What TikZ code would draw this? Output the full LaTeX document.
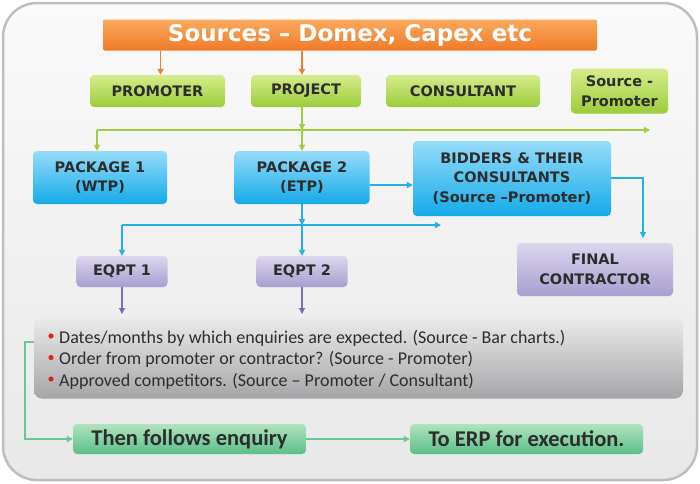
\documentclass[tikz,border=0pt]{standalone}
\usepackage{fontspec}
\setmainfont{Carlito}
\newfontfamily\tah{DejaVu Sans}
\usetikzlibrary{arrows.meta}
\definecolor{orA}{RGB}{250,170,95}
\definecolor{orB}{RGB}{240,122,38}
\definecolor{grA}{RGB}{214,236,140}
\definecolor{grB}{RGB}{156,204,58}
\definecolor{blA}{RGB}{150,220,250}
\definecolor{blB}{RGB}{20,170,232}
\definecolor{puA}{RGB}{220,214,238}
\definecolor{puB}{RGB}{168,158,208}
\definecolor{gnA}{RGB}{176,228,190}
\definecolor{gnB}{RGB}{92,190,136}
\definecolor{orL}{RGB}{240,125,45}
\definecolor{grL}{RGB}{160,205,60}
\definecolor{blL}{RGB}{35,175,232}
\definecolor{puL}{RGB}{120,110,180}
\definecolor{gnL}{RGB}{105,200,145}
\definecolor{txt}{RGB}{45,45,45}
\definecolor{dot}{RGB}{232,30,30}
\begin{document}
\begin{tikzpicture}[x=1pt,y=-1pt,
  box/.style={rounded corners=4pt,inner sep=0pt,align=center,text=txt,font=\tah\bfseries\fontsize{14.5}{19.5}\selectfont},
  grbox/.style={box,top color=grA,bottom color=grB},
  blbox/.style={box,top color=blA,bottom color=blB},
  pubox/.style={box,top color=puA,bottom color=puB},
  gnbox/.style={box,top color=gnA,bottom color=gnB,font=\bfseries\fontsize{22.5}{24}\selectfont},
  tip/.style={-{Triangle[length=6pt,width=6pt]}},
  orarr/.style={tip,draw=orL,line width=1.1pt},
  grarr/.style={tip,draw=grL,line width=1.1pt},
  blarr/.style={tip,draw=blL,line width=1.1pt},
  puarr/.style={tip,draw=puL,line width=1.1pt},
  gnarr/.style={tip,draw=gnL,line width=1.1pt},
  bul/.style={anchor=west,inner sep=0pt,text=txt,font=\fontsize{18}{21}\selectfont}
]
\useasboundingbox (0,0) rectangle (700,483);
\draw[rounded corners=34pt,line width=2.5pt,draw={rgb,255:red,190;green,190;blue,190},top color={rgb,255:red,250;green,250;blue,250},bottom color={rgb,255:red,232;green,232;blue,232}] (3,3) rectangle (697,480);

% title
\node[box,top color=orA,bottom color=orB,rounded corners=2pt,minimum width=494pt,minimum height=31pt,text=white,font=\tah\bfseries\fontsize{23}{26}\selectfont] (title) at (350,35) {Sources – Domex, Capex etc};

% green row
\node[grbox,minimum width=135pt,minimum height=32pt] (prom) at (157.5,91) {PROMOTER};
\node[grbox,minimum width=110pt,minimum height=32pt] (proj) at (306,91) {PROJECT};
\node[grbox,minimum width=154pt,minimum height=32pt] (cons) at (463,91) {CONSULTANT};
\node[grbox,minimum width=97pt,minimum height=45pt] (srcp) at (619.5,91) {Source -\\Promoter};

% blue row
\node[blbox,minimum width=134pt,minimum height=53pt] (pk1) at (100,177.5) {PACKAGE 1\\(WTP)};
\node[blbox,minimum width=135pt,minimum height=53pt] (pk2) at (302,177.5) {PACKAGE 2\\(ETP)};
\node[blbox,minimum width=198pt,minimum height=75pt] (bid) at (512,178.5) {BIDDERS \& THEIR\\CONSULTANTS\\(Source –Promoter)};

% purple
\node[pubox,minimum width=91pt,minimum height=31pt] (eq1) at (122,271.5) {EQPT 1};
\node[pubox,minimum width=91pt,minimum height=31pt] (eq2) at (302,271.5) {EQPT 2};
\node[pubox,minimum width=156pt,minimum height=53pt] (fin) at (595,269.5) {FINAL\\CONTRACTOR};

% gray info box
\node[rounded corners=8pt,minimum width=649pt,minimum height=82pt,inner sep=0pt,top color={rgb,255:red,236;green,236;blue,236},bottom color={rgb,255:red,165;green,165;blue,168}] (info) at (358.5,357.5) {};
\foreach \i/\yy/\t in {1/338/{Dates/months by which enquiries are expected. (Source - Bar charts.)},
                      2/359.5/{Order from promoter or contractor? (Source - Promoter)},
                      3/381/{Approved competitors. (Source – Promoter / Consultant)}}{
  \fill[dot] (51,\yy-2) circle (2.6pt);
  \node[bul] (b\i) at (59,\yy) {\t};
}

% bottom green
\node[gnbox,minimum width=233pt,minimum height=30pt] (then) at (189.5,439) {Then follows enquiry};
\node[gnbox,minimum width=233pt,minimum height=30pt] (erp) at (526.5,439) {To ERP for execution.};

% coordinates
\coordinate (gj) at (302,130);
\coordinate (gl) at (97,130);
\coordinate (gr) at (650,130);
\coordinate (bj) at (302,225);
\coordinate (bl) at (122,225);
\coordinate (br) at (441,225);
\coordinate (bc) at (643,178);
\coordinate (gk) at (25,342);
\coordinate (fc) at (643,238);

% connectors
\draw[orarr] (title.south -| prom.north) ++(3,0) coordinate (t1) -- (t1 |- prom.north);
\draw[orarr] (title.south -| gj) -- (gj |- proj.north);
\draw[grarr] (proj.south -| gj) -- (gj);
\draw[grarr] (gl) -- (gr);
\draw[grarr] (gl) -- (gl |- pk1.north);
\draw[grarr] (gj) -- (pk2.north);
\draw[blarr] (pk2.east |- 0,185) -- (bid.west |- 0,185);
\draw[blarr] (bid.east |- bc) -- (bc) -- (fc);
\draw[blarr] (pk2.south) -- (bj);
\draw[blarr] (bl) -- (br);
\draw[blarr] (bl) -- (eq1.north);
\draw[blarr] (bj) -- (eq2.north);
\draw[puarr] (eq1.south) -- (eq1.south |- 0,314);
\draw[puarr] (eq2.south) -- (eq2.south |- 0,314);
\draw[gnarr] (info.west |- gk) -- (gk) |- (then.west);
\draw[gnarr] (then.east) -- (erp.west);
\end{tikzpicture}
\end{document}
